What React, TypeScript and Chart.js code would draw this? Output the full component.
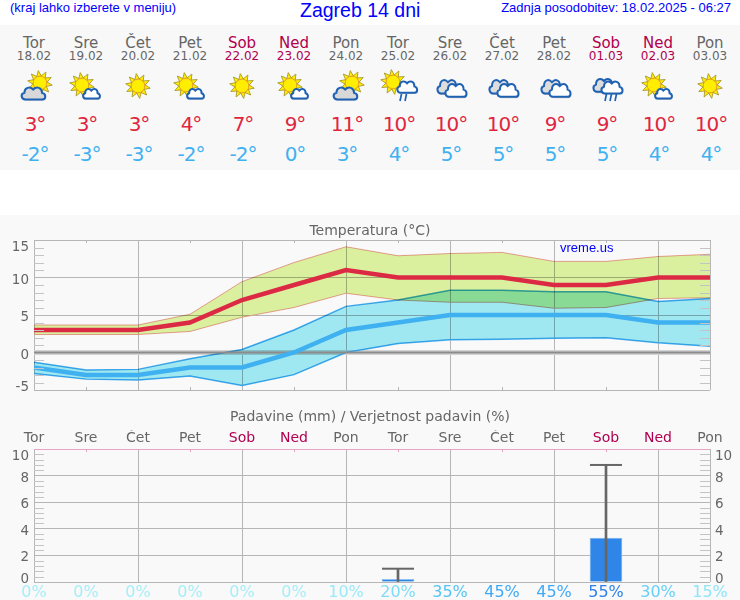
import React, { useEffect, useRef } from "react";
import { Chart, registerables } from "chart.js";

// hooks registered ahead of Filler, so band fills blend with what lies below them
const bandBlend = {
  id: "bandBlend",
  beforeDatasetDraw(chart: any, args: any) {
    const ds = chart.data.datasets[args.index];
    if (ds.bandBlend) chart.ctx.globalCompositeOperation = "multiply";
  },
  afterDatasetDraw(chart: any, args: any) {
    const ds = chart.data.datasets[args.index];
    if (ds.bandBlend) chart.ctx.globalCompositeOperation = "source-over";
  },
};
Chart.register(bandBlend);
Chart.register(...registerables);

const days = ["Tor", "Sre", "Čet", "Pet", "Sob", "Ned", "Pon", "Tor", "Sre", "Čet", "Pet", "Sob", "Ned", "Pon"];
const dates = ["18.02", "19.02", "20.02", "21.02", "22.02", "23.02", "24.02", "25.02", "26.02", "27.02", "28.02", "01.03", "02.03", "03.03"];
const icons = ["a", "b", "c", "b", "c", "b", "a", "d", "e", "e", "e", "f", "b", "c"];
const tempHigh = [3, 3, 3, 4, 7, 9, 11, 10, 10, 10, 9, 9, 10, 10];
const tempLow = [-2, -3, -3, -2, -2, 0, 3, 4, 5, 5, 5, 5, 4, 4];
const highUpper = [3.67, 3.67, 3.67, 5.1, 9.45, 12.0, 14.1, 12.9, 13.2, 13.35, 12.15, 12.15, 12.8, 13.1];
const highLower = [2.4, 2.4, 2.4, 2.8, 4.7, 6.0, 7.9, 7.0, 6.7, 6.7, 5.9, 6.0, 7.2, 7.3];
const lowUpper = [-1.3, -2.33, -2.25, -0.83, 0.4, 3.0, 6.15, 7.0, 8.3, 8.3, 8.1, 8.1, 6.8, 7.2];
const lowLower = [-2.8, -3.55, -3.67, -3.13, -4.4, -2.95, 0, 1.2, 1.7, 1.77, 1.9, 1.97, 1.3, 0.83];
const zeroLine = [0, 0, 0, 0, 0, 0, 0, 0, 0, 0, 0, 0, 0, 0];
const rain = [null, null, null, null, null, null, null, 0.2, null, null, null, 3.3, null, null];
const rainMax = [null, null, null, null, null, null, null, 1.0, null, null, null, 8.8, null, null];
const rainChance = ["0%", "0%", "0%", "0%", "0%", "0%", "10%", "20%", "35%", "45%", "45%", "55%", "30%", "15%"];
const chanceColors = ["#a6eef8", "#a6eef8", "#a6eef8", "#a6eef8", "#a6eef8", "#a6eef8", "#9aeaf8", "#7fdcf8", "#55c4f4", "#3fa9f5", "#3fa9f5", "#2f80e8", "#66d0f8", "#8fe4f8"];

const FONT = "'DejaVu Sans'";
const GREY = "#666666";
const WEEKEND = "#b0004f";
const GRID = "#b6b6b6";
const dayColor = (i: number) => (i === 4 || i === 5 || i === 11 || i === 12 ? WEEKEND : GREY);
const cloudPath = "M5 14 C1 14 0 9 4 8 C4 3 9 2 12 5 C15 2 20 3 20 8 C24 9 24 14 20 14 Z";

function Sun({ x, y }: { x: number; y: number }) {
  const rays = [];
  for (let k = 0; k < 10; k++) {
    const a = (k * 36 + 10) * (Math.PI / 180);
    const p = (r: number, d: number) => `${(x + r * Math.cos(a + d)).toFixed(1)},${(y + r * Math.sin(a + d)).toFixed(1)}`;
    rays.push(<polygon key={k} points={`${p(7, 0.34)} ${p(12.5, 0)} ${p(7, -0.34)}`} fill="#ffee00" stroke="#a89a30" strokeWidth="0.9" />);
  }
  return (
    <g>
      {rays}
      <circle cx={x} cy={y} r="6.8" fill="#ffee00" stroke="#f0a020" strokeWidth="0.9" />
    </g>
  );
}

function Cloud({ x, y, s, h, fill }: { x: number; y: number; s: number; h: number; fill: string }) {
  return (
    <g>
      <path d={cloudPath} transform={`translate(${x + 0.6},${y + 1.4}) scale(${s},${h})`} fill="#9a9a9a" opacity="0.55" />
      <path d={cloudPath} transform={`translate(${x},${y}) scale(${s},${h})`} fill={fill} stroke="#1f62b4" strokeWidth="2" vectorEffect="non-scaling-stroke" />
    </g>
  );
}

function Rain({ x, y, n }: { x: number; y: number; n: number }) {
  const bars = [];
  for (let k = 0; k < n; k++) {
    bars.push(<line key={k} x1={x + k * 5 + 1.5} y1={y} x2={x + k * 5} y2={y + 7} stroke="#1f62b4" strokeWidth="1.7" />);
  }
  return <g>{bars}</g>;
}

function Icon({ kind, cx }: { kind: string; cx: number }) {
  return (
    <svg width="44" height="40" viewBox="0 0 44 40" style={{ position: "absolute", left: cx - 22, top: 66 }}>
      {kind === "a" && (
        <g>
          <Sun x={28} y={17} />
          <Cloud x={8} y={18} s={1.1} h={1.1} fill="#d8d8d8" />
        </g>
      )}
      {kind === "b" && (
        <g>
          <Sun x={18} y={19} />
          <Cloud x={18} y={20} s={0.78} h={0.9} fill="#ffffff" />
        </g>
      )}
      {kind === "c" && <Sun x={22} y={20} />}
      {kind === "d" && (
        <g>
          <Sun x={17} y={16} />
          <Cloud x={20} y={12} s={0.92} h={1.05} fill="#ffffff" />
          <Rain x={24} y={28} n={2} />
        </g>
      )}
      {kind === "e" && (
        <g>
          <Cloud x={8} y={10} s={1.0} h={1.25} fill="#dddddd" />
          <Cloud x={16} y={14} s={0.98} h={1.2} fill="#ffffff" />
        </g>
      )}
      {kind === "f" && (
        <g>
          <Cloud x={8} y={9} s={1.0} h={1.2} fill="#dddddd" />
          <Cloud x={16} y={12} s={0.98} h={1.1} fill="#ffffff" />
          <Rain x={21} y={28} n={3} />
        </g>
      )}
    </svg>
  );
}

function axisMarks(cfg: {
  minor: number[];
  tickColor: (side: string) => string;
  bottomTicks: boolean;
  rightLabels: boolean;
  title: string;
  titleY: number;
  extra?: boolean;
}) {
  return {
    id: "axisMarks",
    afterDatasetsDraw(chart: any) {
      const { ctx, chartArea: a, scales } = chart;
      const y = scales.y;
      const x = scales.x;
      ctx.save();
      ctx.lineWidth = 1;
      ctx.strokeStyle = "#c4c4c4";
      ctx.beginPath();
      for (const v of cfg.minor) {
        const p = Math.round(y.getPixelForValue(v)) + 0.5;
        ctx.moveTo(a.left, p);
        ctx.lineTo(a.left + 10, p);
        ctx.moveTo(a.right - 10, p);
        ctx.lineTo(a.right, p);
      }
      ctx.stroke();
      for (let i = 1; i < days.length - 1; i += 2) {
        const p = Math.round(x.getPixelForValue(i)) + 0.5;
        ctx.strokeStyle = cfg.tickColor("top");
        ctx.beginPath();
        ctx.moveTo(p, a.top);
        ctx.lineTo(p, a.top + 3);
        ctx.stroke();
        if (cfg.bottomTicks) {
          ctx.strokeStyle = cfg.tickColor("bottom");
          ctx.beginPath();
          ctx.moveTo(p, a.bottom);
          ctx.lineTo(p, a.bottom - 3);
          ctx.stroke();
        }
      }
      ctx.fillStyle = GREY;
      ctx.font = `13.5px ${FONT}`;
      ctx.textBaseline = "middle";
      for (const t of y.ticks) {
        const p = Math.min(Math.max(y.getPixelForValue(t.value) + 2.5, a.top + 7.5), a.bottom - 2.7);
        ctx.textAlign = "right";
        ctx.fillText(String(t.value), a.left - 5, p);
        if (cfg.rightLabels) {
          ctx.textAlign = "left";
          ctx.fillText(String(t.value), a.right + 5, p);
        }
      }
      ctx.font = `14px ${FONT}`;
      ctx.textAlign = "center";
      ctx.fillText(cfg.title, 370, cfg.titleY);
      if (cfg.extra) {
        ctx.fillStyle = "#0000ff";
        ctx.font = "13px 'Liberation Sans'";
        ctx.textAlign = "left";
        ctx.fillText("vreme.us", 560, 33);
      }
      ctx.restore();
    },
  };
}

const xGridColor = (c: any) => {
  const i = c.index;
  return i === 0 || i === days.length - 1 || i % 2 === 0 ? GRID : "rgba(0,0,0,0)";
};

export default function App() {
  const tempRef = useRef<HTMLCanvasElement>(null);
  const rainRef = useRef<HTMLCanvasElement>(null);

  useEffect(() => {
    const minorT: number[] = [];
    for (let v = -4; v < 15; v++) if (v % 5 !== 0) minorT.push(v);
    const minorR: number[] = [];
    for (let k = 1; k < 25; k++) if (k % 5 !== 0) minorR.push(k * 0.4);

    const temp = new Chart(tempRef.current as any, {
      type: "line",
      data: {
        labels: days,
        datasets: [
          { data: tempHigh, borderColor: "#dc2a45", borderWidth: 4.5, pointRadius: 0, tension: 0, fill: false },
          { data: tempLow, borderColor: "#3fb0f0", borderWidth: 4.5, pointRadius: 0, tension: 0, fill: false },
          { data: zeroLine, borderColor: "#8c8c8c", borderWidth: 2, pointRadius: 0, tension: 0, fill: false },
          { data: lowUpper, borderColor: "#42aaee", backgroundColor: "#9fe8f1", borderWidth: 1.5, pointRadius: 0, tension: 0, fill: "+1", bandBlend: true },
          { data: lowLower, borderColor: "#42aaee", borderWidth: 1.5, pointRadius: 0, tension: 0, fill: false },
          { data: highUpper, borderColor: "#eea0a0", backgroundColor: "#dbf09e", borderWidth: 1, pointRadius: 0, tension: 0, fill: "+1", bandBlend: true },
          { data: highLower, borderColor: "#eea0a0", borderWidth: 1, pointRadius: 0, tension: 0, fill: false },
        ] as any,
      },
      options: {
        animation: false,
        responsive: false,
        devicePixelRatio: 1,
        layout: { padding: { left: 34, right: 30, top: 25, bottom: 10 } },
        plugins: { legend: { display: false }, title: { display: false }, tooltip: { enabled: false } },
        scales: {
          x: {
            type: "category",
            offset: false,
            ticks: { display: false },
            border: { display: false },
            grid: { color: xGridColor, drawTicks: false, offset: false },
          },
          y: {
            min: -5,
            max: 15,
            ticks: { display: false, stepSize: 5 },
            border: { display: false },
            grid: {
              drawTicks: false,
              color: (c: any) => (c.tick && c.tick.value === 0 ? "#d4d4d4" : GRID),
              lineWidth: (c: any) => (c.tick && c.tick.value === 0 ? 5 : 1),
            },
          },
        },
      } as any,
      plugins: [
        axisMarks({
          minor: minorT,
          tickColor: () => GRID,
          bottomTicks: true,
          rightLabels: false,
          title: "Temperatura (°C)",
          titleY: 16,
          extra: true,
        }),
      ],
    });

    const wet = new Chart(rainRef.current as any, {
      type: "bar",
      data: {
        labels: days,
        datasets: [
          { type: "line", data: rainMax, showLine: false, pointStyle: "line", pointRadius: 16, pointBorderWidth: 2, pointBorderColor: GREY, backgroundColor: GREY, order: 0 },
          { type: "bar", data: rainMax, backgroundColor: GREY, barThickness: 2, grouped: false, order: 1 },
          { type: "bar", data: rain, backgroundColor: "#2f86e8", borderColor: "#8fc0f2", borderWidth: 1, barThickness: 32, grouped: false, order: 2 },
        ] as any,
      },
      options: {
        animation: false,
        responsive: false,
        devicePixelRatio: 1,
        layout: { padding: { left: 34, right: 30, top: 30, bottom: 0 } },
        plugins: { legend: { display: false }, title: { display: false }, tooltip: { enabled: false } },
        scales: {
          x: {
            type: "category",
            position: "top",
            labels: days,
            offset: false,
            afterFit: (s: any) => { s.height = 19; },
            ticks: {
              padding: 2,
              autoSkip: false,
              maxRotation: 0,
              font: { family: "DejaVu Sans", size: 14 },
              color: (c: any) => dayColor(c.index),
            },
            border: { display: false },
            grid: { color: xGridColor, drawTicks: false, offset: false },
          },
          x2: {
            type: "category",
            position: "bottom",
            labels: rainChance,
            offset: false,
            afterFit: (s: any) => { s.height = 18; },
            ticks: {
              padding: 1,
              autoSkip: false,
              maxRotation: 0,
              font: { family: "DejaVu Sans", size: 16 },
              color: (c: any) => chanceColors[c.index],
            },
            border: { display: false },
            grid: { display: false, drawTicks: false },
          },
          y: {
            min: 0,
            max: 10,
            ticks: { display: false, stepSize: 2 },
            border: { display: false },
            grid: {
              drawTicks: false,
              color: (c: any) => (c.tick && c.tick.value === 10 ? "#e8a4c0" : GRID),
            },
          },
        },
      } as any,
      plugins: [
        axisMarks({
          minor: minorR,
          tickColor: () => "#e8a4c0",
          bottomTicks: false,
          rightLabels: true,
          title: "Padavine (mm) / Verjetnost padavin (%)",
          titleY: 17,
        }),
      ],
    });

    return () => {
      temp.destroy();
      wet.destroy();
    };
  }, []);

  const cell = (cx: number, top: number, w: number): React.CSSProperties => ({
    position: "absolute",
    left: cx - w / 2,
    top,
    width: w,
    textAlign: "center",
    whiteSpace: "nowrap",
    fontFamily: FONT,
  });
  const head: React.CSSProperties = {
    position: "absolute",
    whiteSpace: "nowrap",
    fontFamily: "'Liberation Sans'",
    color: "#0000ff",
  };

  return (
    <div style={{ position: "relative", width: 740, height: 600, background: "#ffffff", overflow: "hidden" }}>
      <style>{"html,body{margin:0;padding:0}"}</style>
      <div style={{ ...head, left: 10, top: 0, fontSize: 13, lineHeight: "15px" }}>(kraj lahko izberete v meniju)</div>
      <div style={{ ...head, left: 300, top: 0, fontSize: 19.5, lineHeight: "20px" }}>Zagreb 14 dni</div>
      <div style={{ ...head, right: 9, top: 0, fontSize: 13, lineHeight: "15px" }}>Zadnja posodobitev: 18.02.2025 - 06:27</div>
      <div style={{ position: "absolute", left: 0, top: 25, width: 740, height: 145, background: "#f8f8f8" }} />
      {days.map((d, i) => {
        const cx = 34 + 52 * i;
        return (
          <React.Fragment key={i}>
            <div style={{ ...cell(cx, 34, 52), fontSize: 15, lineHeight: "18px", color: dayColor(i) }}>{d}</div>
            <div style={{ ...cell(cx, 49, 52), fontSize: 12, lineHeight: "14px", color: dayColor(i) }}>{dates[i]}</div>
            <Icon kind={icons[i]} cx={cx} />
            <div style={{ ...cell(cx + 1, 113, 52), fontSize: 20, letterSpacing: "-1px", lineHeight: "22px", color: "#e0263f" }}>{tempHigh[i]}°</div>
            <div style={{ ...cell(cx + 1, 143, 52), fontSize: 20, letterSpacing: "-1px", lineHeight: "22px", color: "#3fb0f0" }}>{tempLow[i]}°</div>
          </React.Fragment>
        );
      })}
      <div style={{ position: "absolute", left: 0, top: 215, width: 740, height: 385, background: "#f9f9f9" }} />
      <canvas ref={tempRef} width={740} height={185} style={{ position: "absolute", left: 0, top: 215, width: 740, height: 185 }} />
      <canvas ref={rainRef} width={740} height={200} style={{ position: "absolute", left: 0, top: 400, width: 740, height: 200 }} />
    </div>
  );
}
